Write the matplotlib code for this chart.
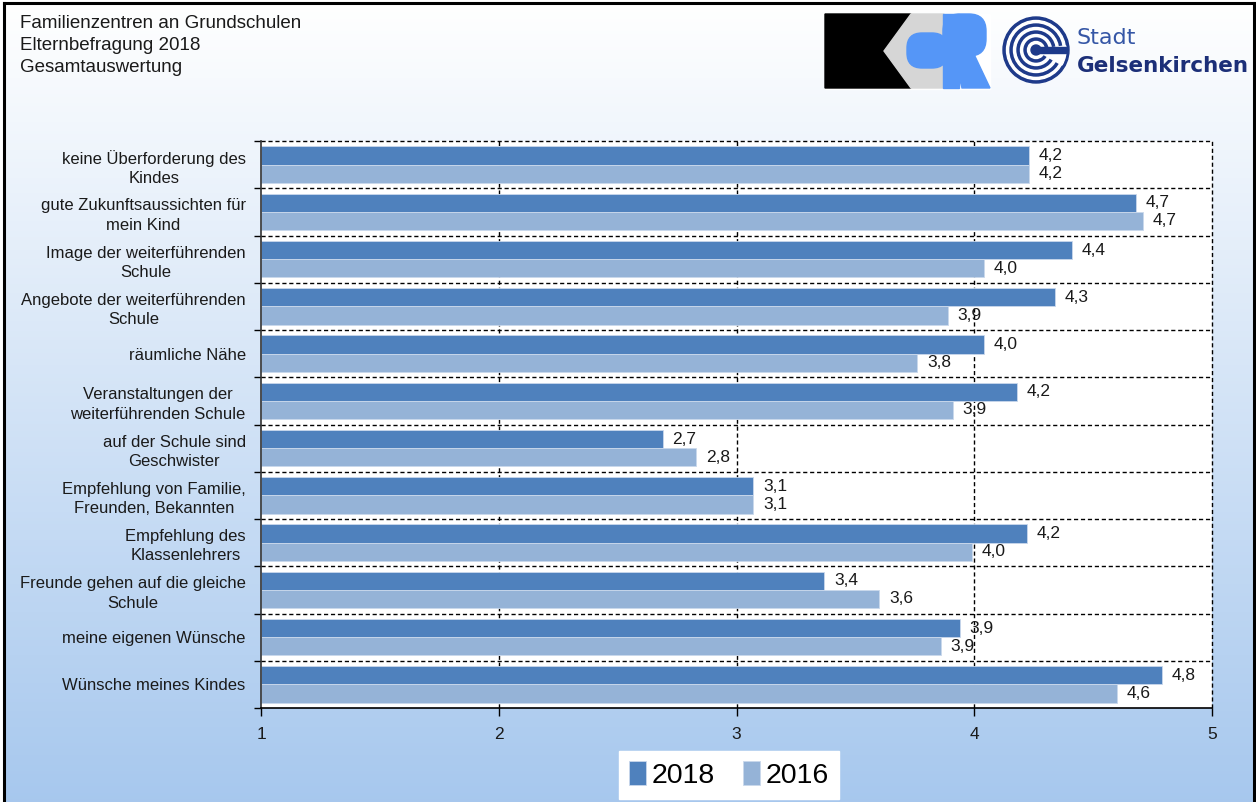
import numpy as np
import matplotlib
matplotlib.use("Agg")
import matplotlib.pyplot as plt
from matplotlib.patches import Rectangle, Polygon, Circle, Wedge, FancyBboxPatch

plt.rcParams['font.family'] = ['Liberation Sans', 'DejaVu Sans']

# data
categories = [
    "keine Überforderung des\nKindes",
    "gute Zukunftsaussichten für\nmein Kind",
    "Image der weiterführenden\nSchule",
    "Angebote der weiterführenden\nSchule",
    "räumliche Nähe",
    "Veranstaltungen der\nweiterführenden Schule",
    "auf der Schule sind\nGeschwister",
    "Empfehlung von Familie,\nFreunden, Bekannten",
    "Empfehlung des\nKlassenlehrers",
    "Freunde gehen auf die gleiche\nSchule",
    "meine eigenen Wünsche",
    "Wünsche meines Kindes",
]
v2018 = [4.23, 4.68, 4.41, 4.34, 4.04, 4.18, 2.69, 3.07, 4.22, 3.37, 3.94, 4.79]
v2016 = [4.23, 4.71, 4.04, 3.89, 3.76, 3.91, 2.83, 3.07, 3.99, 3.60, 3.86, 4.60]
series = ["2018", "2016"]
xticks = [1, 2, 3, 4, 5]
title_lines = ["Familienzentren an Grundschulen", "Elternbefragung 2018", "Gesamtauswertung"]

c2018 = "#4F81BD"
c2016 = "#95B3D7"

W, H = 1256, 802
fig = plt.figure(figsize=(W / 100, H / 100), dpi=100)

# background layer in pixel coordinates
bg = fig.add_axes([0, 0, 1, 1])
bg.set_xlim(0, W)
bg.set_ylim(H, 0)
bg.axis("off")
grad = np.linspace(0, 1, 256).reshape(-1, 1)
top = np.array([1.0, 1.0, 1.0])
bot = np.array([0.655, 0.784, 0.933])
img = top + (bot - top) * grad[:, :, None]
bg.imshow(img, extent=[4, 1254, H, 3], aspect="auto", zorder=0)
bg.plot([4, 4], [H, 3], color="black", lw=2.2, zorder=2)
bg.plot([4, 1254], [3, 3], color="black", lw=2.2, zorder=2)
bg.plot([1254, 1254], [3, H], color="black", lw=2.2, zorder=2)

for i, t in enumerate(title_lines):
    bg.text(20, 24 + i * 22, t, fontsize=13.5, color="#1a1a1a", va="center", ha="left")

# KCR logo
blue = "#5596F7"
bg.add_patch(Rectangle((825, 14), 165, 75, color="white", zorder=1))
bg.add_patch(Polygon([(825, 14), (911, 14), (884, 51), (911, 88), (825, 88)], color="black", zorder=2))
bg.add_patch(Polygon([(911, 14), (944, 14), (944, 88), (911, 88), (884, 51)], color="#D6D6D6", zorder=2))
bg.add_patch(FancyBboxPatch((907, 33), 40, 35, boxstyle="round,pad=0,rounding_size=15",
                            color=blue, zorder=3))
bg.add_patch(Rectangle((943, 14), 16, 74, color=blue, zorder=3))
bg.add_patch(FancyBboxPatch((943, 14), 43, 42, boxstyle="round,pad=0,rounding_size=17",
                            color=blue, zorder=3))
bg.add_patch(Polygon([(952, 50), (972, 50), (990, 88), (962, 88)], color=blue, zorder=3))

# Gelsenkirchen logo
cx, cy = 1036, 50
navy = "#1E3A8A"
radii = [33, 29.5, 26, 22.5, 19, 15.5, 12, 8.5]
for k, r in enumerate(radii):
    bg.add_patch(Circle((cx, cy), r, color=navy if k % 2 == 0 else "white", zorder=3 + k))
bg.add_patch(Wedge((cx, cy), 30, -8, 30, color="white", zorder=12))
bg.add_patch(Rectangle((cx, cy - 3), 30, 6, color=navy, zorder=13))
bg.add_patch(Circle((cx, cy), 5, color=navy, zorder=13))
bg.text(1077, 38, "Stadt", fontsize=16, color="#3556A6",
        family="DejaVu Sans", va="center", ha="left")
bg.text(1077, 66, "Gelsenkirchen", fontsize=15.5, color="#1C2F78", fontweight="bold",
        family="DejaVu Sans", va="center", ha="left")

# main chart
ax = fig.add_axes([261 / W, 1 - 708 / H, (1212 - 261) / W, (708 - 141) / H])
ax.set_facecolor("white")
n = len(categories)
y = np.arange(n)
h = 0.385
ax.barh(y - h / 2, np.array(v2018) - 1, left=1, height=h, color=c2018,
        edgecolor="#C9D8EC", linewidth=0.6, zorder=3, label=series[0])
ax.barh(y + h / 2, np.array(v2016) - 1, left=1, height=h, color=c2016,
        edgecolor="#C9D8EC", linewidth=0.6, zorder=3, label=series[1])

for yi, a, b in zip(y, v2018, v2016):
    ax.annotate(f"{a:.1f}".replace(".", ","), (a, yi - h / 2), xytext=(7, 0),
                textcoords="offset points", va="center", ha="left", fontsize=12.5, color="#1a1a1a", zorder=5)
    ax.annotate(f"{b:.1f}".replace(".", ","), (b, yi + h / 2), xytext=(7, 0),
                textcoords="offset points", va="center", ha="left", fontsize=12.5, color="#1a1a1a", zorder=5)

ax.set_xlim(1, 5)
ax.set_ylim(n - 0.5, -0.5)

# dashed grid
for b in np.arange(-0.5, n - 0.5, 1.0):
    ax.axhline(b, color="black", lw=1, ls=(0, (3, 2)), zorder=1, clip_on=False)
for xv in xticks[1:]:
    ax.axvline(xv, color="black", lw=1, ls=(0, (3, 2)), zorder=1, clip_on=False)

ax.spines["top"].set_visible(False)
ax.spines["right"].set_visible(False)
ax.spines["left"].set_color("#333333")
ax.spines["left"].set_linewidth(1.2)
ax.spines["bottom"].set_color("black")
ax.spines["bottom"].set_linewidth(1.2)
ax.spines["left"].set_zorder(4)
ax.spines["bottom"].set_zorder(4)

ax.set_xticks(xticks)
ax.set_xticklabels([str(v) for v in xticks], fontsize=12.5, color="#1a1a1a")
ax.tick_params(axis="x", direction="out", length=6, width=1, pad=8)

ax.set_yticks(np.arange(-0.5, n, 1.0))
ax.set_yticklabels([])
ax.tick_params(axis="y", which="major", direction="out", length=5, width=1)
ax.set_yticks(y, minor=True)
ax.set_yticklabels(categories, minor=True, fontsize=12, color="#1a1a1a",
                   multialignment="center", linespacing=1.35)
ax.tick_params(axis="y", which="minor", length=0, pad=11)

leg = fig.legend(loc="center", bbox_to_anchor=(729 / W, 1 - 775 / H), ncol=2,
                 fontsize=20.5, frameon=True, fancybox=False, edgecolor="white",
                 facecolor="white", framealpha=1, handlelength=0.6, handleheight=0.9,
                 handletextpad=0.2, columnspacing=1.0, borderpad=0.35)

fig.savefig("out.png", dpi=100)
